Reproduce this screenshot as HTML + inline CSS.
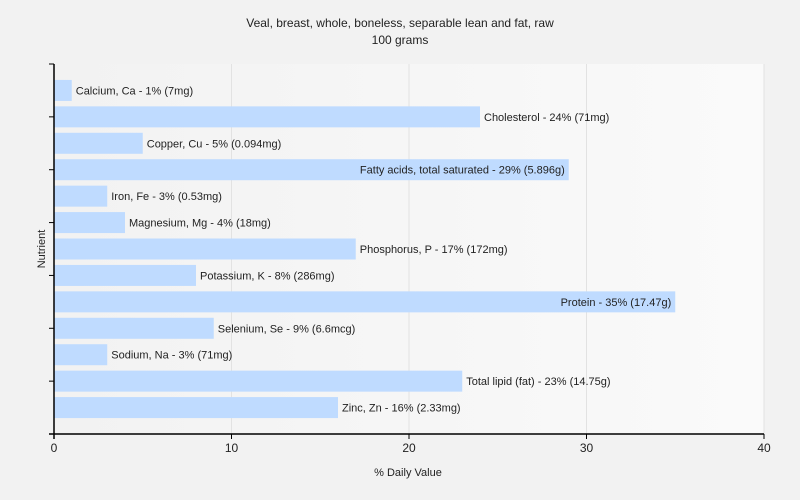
<!DOCTYPE html>
<html><head><meta charset="utf-8"><style>
html,body{margin:0;padding:0;background:#f2f2f2;}
svg{display:block;font-family:"Liberation Sans",sans-serif;}
</style></head><body>
<svg id="chart" width="800" height="500">
<defs><linearGradient id="pg" x1="0" x2="1"><stop offset="0" stop-color="#f2f2f2"/><stop offset="1" stop-color="#fafafa"/></linearGradient></defs>
<text x="400" y="27" text-anchor="middle" font-size="12" fill="#222">Veal, breast, whole, boneless, separable lean and fat, raw</text>
<text x="400" y="44" text-anchor="middle" font-size="12" fill="#222">100 grams</text>
<rect x="54" y="64" width="710" height="370" fill="url(#pg)"/>
<g id="grid"></g><g id="bars"></g><g id="axes"></g>
<text x="408" y="476" text-anchor="middle" font-size="11" fill="#222">% Daily Value</text>
<text transform="translate(45,249) rotate(-90)" text-anchor="middle" font-size="11" fill="#222">Nutrient</text>
</svg>
<script>
const categories=["Calcium, Ca","Cholesterol","Copper, Cu","Fatty acids, total saturated","Iron, Fe","Magnesium, Mg","Phosphorus, P","Potassium, K","Protein","Selenium, Se","Sodium, Na","Total lipid (fat)","Zinc, Zn"];
const values=[1,24,5,29,3,4,17,8,35,9,3,23,16];
const amounts=["7mg","71mg","0.094mg","5.896g","0.53mg","18mg","172mg","286mg","17.47g","6.6mcg","71mg","14.75g","2.33mg"];
const xTicks=[0,10,20,30,40];
const NS="http://www.w3.org/2000/svg";
const L=54,R=764,T=64,B=434,band=(B-T)/(categories.length+1);
const x=v=>L+(v/40)*(R-L);
const y=i=>T+band*(i+1);
function mk(t,a,p){const e=document.createElementNS(NS,t);for(const k in a)e.setAttribute(k,a[k]);p.appendChild(e);return e;}
const grid=document.getElementById('grid'),bars=document.getElementById('bars'),axes=document.getElementById('axes');
xTicks.forEach(t=>{
 if(t>0){const g=mk('line',{x1:x(t),x2:x(t),y1:T,y2:B,stroke:'#e2e2e2'},grid);
 
 }
 const tk=mk('line',{x1:x(t),x2:x(t),y1:B,y2:B+5,stroke:'#000'},axes);
 
 
 const lb=mk('text',{x:x(t),y:B+18,'text-anchor':'middle','font-size':12,fill:'#222'},axes);
 lb.textContent=t;
 
 
});
categories.forEach((c,i)=>{
 const cy=y(i);
 const r=mk('rect',{x:L,y:cy-10.5,width:x(values[i])-L,height:21,fill:'#bfdbff'},bars);
 
 
 const label=c+' - '+values[i]+'% ('+amounts[i]+')';
 const inside=values[i]>=28;
 const t=mk('text',{x:inside?x(values[i])-4:x(values[i])+4,y:cy+4,'text-anchor':inside?'end':'start','font-size':11,fill:'#222'},bars);
 t.textContent=label;
 
 
 if(i%2===1){const tk=mk('line',{x1:L-5,x2:L,y1:cy,y2:cy,stroke:'#000'},axes);
 
 }
});
[[L-5,T,L,T],[L-5,B,L,B]].forEach(a=>{const e=mk('line',{x1:a[0],y1:a[1],x2:a[2],y2:a[3],stroke:'#000'},axes);
 
 });
const ya=mk('line',{x1:L,x2:L,y1:T,y2:B+5,stroke:'#000','stroke-width':1.5},axes);


const xa=mk('line',{x1:L-5,x2:R,y1:B,y2:B,stroke:'#000','stroke-width':1.5},axes);


</script>
</body></html>
